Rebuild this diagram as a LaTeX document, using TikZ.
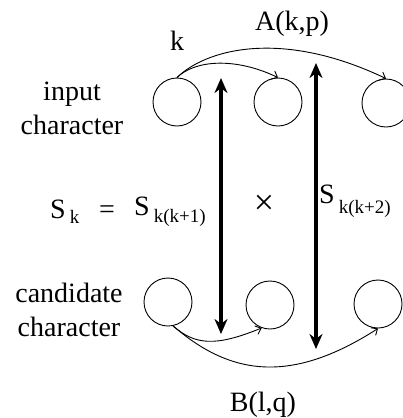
\documentclass[tikz,border=0pt]{standalone}
\usepackage{fontspec}
\setmainfont{Liberation Serif}
\usetikzlibrary{arrows.meta, positioning}

\begin{document}
\begin{tikzpicture}[x=1pt, y=-1pt,
  charcirc/.style={draw, circle, minimum size=48pt, inner sep=0pt, line width=0.9pt},
  link/.style={line width=0.9pt, -{Straight Barb[length=5pt,width=9pt]}},
  bigarrow/.style={line width=3.2pt, {Stealth[length=15pt,width=13pt]}-{Stealth[length=15pt,width=13pt]}},
  lbl/.style={font=\fontsize{28}{34}\selectfont, inner sep=0pt},
  eqlbl/.style={lbl, anchor=base west}]
  \useasboundingbox (0,0) rectangle (402,418);

  % input characters
  \node[charcirc] (t1) at (177,102) {};
  \node[charcirc] (t2) at (278,102) {};
  \node[charcirc] (t3) at (386,103) {};
  \node[lbl, align=center] (inlbl) at (72,108) {input\\character};

  % candidate characters
  \node[charcirc] (b1) at (168,302) {};
  \node[charcirc] (b2) at (270,305) {};
  \node[charcirc] (b3) at (378,304) {};
  \node[lbl, align=center] (candlbl) at (69,310) {candidate\\character};

  % links between input characters
  \draw[link] (t1.north) .. controls (195,60) and (235,57) .. (t2.north);
  \draw[link] (t1.north) .. controls (205,50) and (280,28) .. (t3.north);
  \node[lbl, anchor=base] (klbl) at (177,50) {k};
  \node[lbl, anchor=base] (albl) at (292,30) {A(k,p)};

  % links between candidate characters
  \draw[link] (b1.-78) .. controls (195,345) and (215,347) .. (b2.-110);
  \draw[link] (b1.-78) .. controls (230,375) and (290,385) .. (b3.south);
  \node[lbl, anchor=base] (blbl) at (263,411) {B(l,q)};

  % matching arrows
  \coordinate (m1top) at (221,78);
  \coordinate (m1bot) at (221,334);
  \coordinate (m2top) at (316,63);
  \coordinate (m2bot) at (316,349);
  \draw[bigarrow] (m1top) -- (m1bot);
  \draw[bigarrow] (m2top) -- (m2bot);

  % similarity
  \node[eqlbl] (sk) at (50,218) {S\hspace{4pt}\raisebox{-5pt}{\fontsize{19}{20}\selectfont k}};
  \node[lbl, anchor=base] (eq) at (107,218) {=};
  \node[eqlbl] (sk1) at (134,215) {S\hspace{4pt}\raisebox{-7pt}{\fontsize{19}{20}\selectfont k(k+1)}};
  \node[lbl, anchor=base, font=\fontsize{36}{40}\selectfont] (times) at (264,214) {×};
  \node[eqlbl] (sk2) at (319,203) {S\hspace{4pt}\raisebox{-10pt}{\fontsize{19}{20}\selectfont k(k+2)}};
\end{tikzpicture}
\end{document}
